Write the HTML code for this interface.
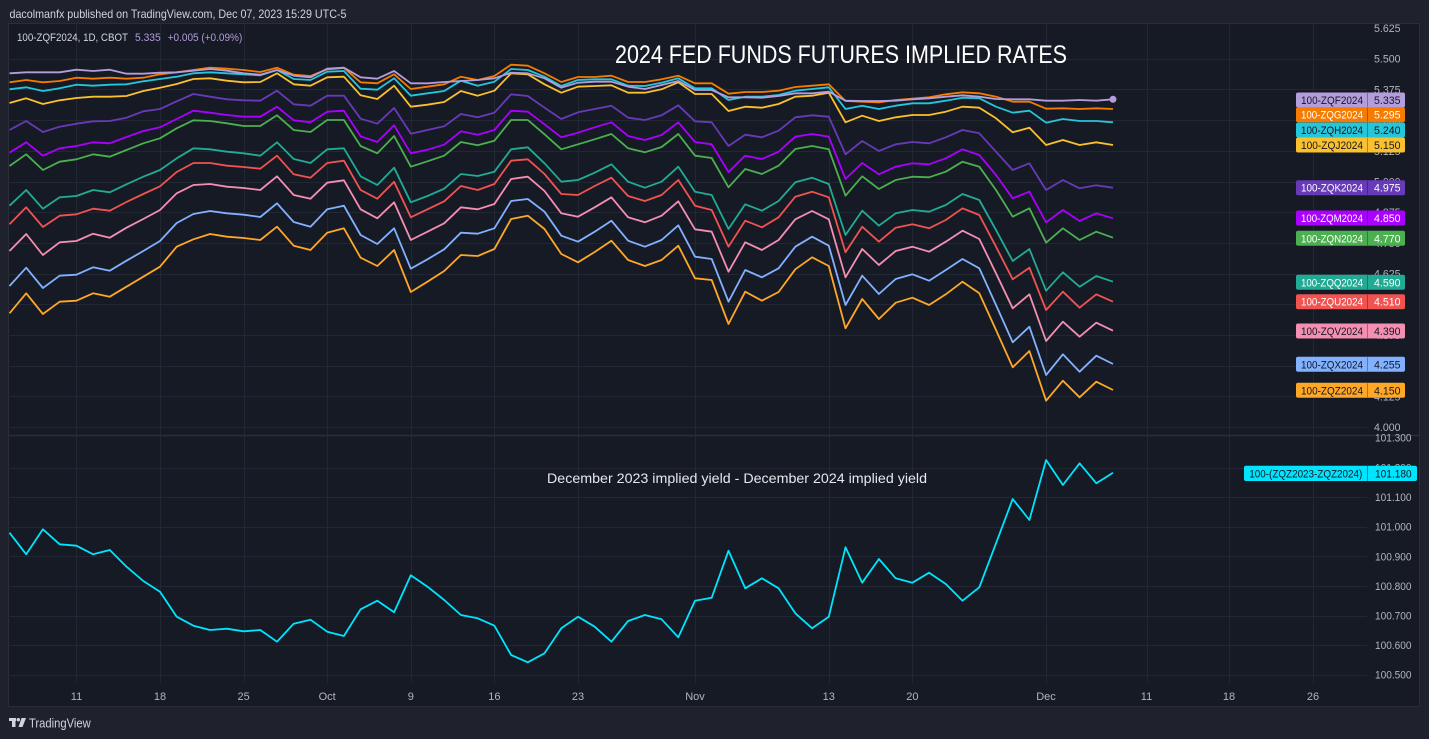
<!DOCTYPE html>
<html><head><meta charset="utf-8">
<style>
html,body{margin:0;padding:0;background:#1f222c;}
svg{display:block;}
text{font-family:"Liberation Sans",sans-serif;}
</style></head><body>
<svg id="s" width="1429" height="739" viewBox="0 0 1429 739" xmlns="http://www.w3.org/2000/svg">
<rect width="1429" height="739" fill="#1f222c"/>
<rect x="8.5" y="23.5" width="1411" height="683" fill="#161a25" stroke="#2a2e39" stroke-width="1"/>
<g id="grid" stroke="#232733" stroke-width="1" shape-rendering="crispEdges"></g>
<line x1="8" y1="435.5" x2="1420" y2="435.5" stroke="#2a2e39" stroke-width="1.5"/>
<g id="lines" fill="none" stroke-width="1.8" stroke-linejoin="round"></g>
<circle cx="1113" cy="99.3" r="3.5" fill="#b39ddb"/>

<!-- header -->
<text x="9.5" y="18" font-size="12" fill="#d1d4dc" textLength="337" lengthAdjust="spacingAndGlyphs">dacolmanfx published on TradingView.com, Dec 07, 2023 15:29 UTC-5</text>
<text x="17" y="41" font-size="11" fill="#d1d4dc" textLength="111" lengthAdjust="spacingAndGlyphs">100-ZQF2024, 1D, CBOT</text>
<text x="135" y="41" font-size="11" fill="#b39ddb" textLength="25.7" lengthAdjust="spacingAndGlyphs">5.335</text>
<text x="167.7" y="41" font-size="11" fill="#b39ddb" textLength="74.6" lengthAdjust="spacingAndGlyphs">+0.005 (+0.09%)</text>

<!-- titles -->
<text x="615" y="63" font-size="25" fill="#ffffff" textLength="452" lengthAdjust="spacingAndGlyphs">2024 FED FUNDS FUTURES IMPLIED RATES</text>
<text x="547" y="483" font-size="14" fill="#e6e8ee" textLength="380" lengthAdjust="spacingAndGlyphs">December 2023 implied yield - December 2024 implied yield</text>

<!-- price axis top -->
<g font-size="11" fill="#b2b5be">
<text x="1374" y="32" textLength="26.5" lengthAdjust="spacingAndGlyphs">5.625</text>
<text x="1374" y="62.7" textLength="26.5" lengthAdjust="spacingAndGlyphs">5.500</text>
<text x="1374" y="93.4" textLength="26.5" lengthAdjust="spacingAndGlyphs">5.375</text>
<text x="1374" y="124.1" textLength="26.5" lengthAdjust="spacingAndGlyphs">5.250</text>
<text x="1374" y="154.8" textLength="26.5" lengthAdjust="spacingAndGlyphs">5.125</text>
<text x="1374" y="185.5" textLength="26.5" lengthAdjust="spacingAndGlyphs">5.000</text>
<text x="1374" y="216.2" textLength="26.5" lengthAdjust="spacingAndGlyphs">4.875</text>
<text x="1374" y="246.9" textLength="26.5" lengthAdjust="spacingAndGlyphs">4.750</text>
<text x="1374" y="277.6" textLength="26.5" lengthAdjust="spacingAndGlyphs">4.625</text>
<text x="1374" y="308.3" textLength="26.5" lengthAdjust="spacingAndGlyphs">4.500</text>
<text x="1374" y="339" textLength="26.5" lengthAdjust="spacingAndGlyphs">4.375</text>
<text x="1374" y="369.7" textLength="26.5" lengthAdjust="spacingAndGlyphs">4.250</text>
<text x="1374" y="400.4" textLength="26.5" lengthAdjust="spacingAndGlyphs">4.125</text>
<text x="1374" y="431.1" textLength="26.5" lengthAdjust="spacingAndGlyphs">4.000</text>
<!-- bottom pane -->
<text x="1375" y="441.5" textLength="36.5" lengthAdjust="spacingAndGlyphs">101.300</text>
<text x="1375" y="471.5" textLength="36.5" lengthAdjust="spacingAndGlyphs">101.200</text>
<text x="1375" y="501.1" textLength="36.5" lengthAdjust="spacingAndGlyphs">101.100</text>
<text x="1375" y="530.7" textLength="36.5" lengthAdjust="spacingAndGlyphs">101.000</text>
<text x="1375" y="560.3" textLength="36.5" lengthAdjust="spacingAndGlyphs">100.900</text>
<text x="1375" y="589.9" textLength="36.5" lengthAdjust="spacingAndGlyphs">100.800</text>
<text x="1375" y="619.5" textLength="36.5" lengthAdjust="spacingAndGlyphs">100.700</text>
<text x="1375" y="649.1" textLength="36.5" lengthAdjust="spacingAndGlyphs">100.600</text>
<text x="1375" y="678.7" textLength="36.5" lengthAdjust="spacingAndGlyphs">100.500</text>
</g>

<!-- time axis -->
<g font-size="11" fill="#b2b5be" text-anchor="middle">
<text x="76.5" y="700">11</text>
<text x="160" y="700">18</text>
<text x="243.6" y="700">25</text>
<text x="327.2" y="700">Oct</text>
<text x="410.8" y="700">9</text>
<text x="494.4" y="700">16</text>
<text x="578" y="700">23</text>
<text x="695" y="700">Nov</text>
<text x="828.8" y="700">13</text>
<text x="912.4" y="700">20</text>
<text x="1046" y="700">Dec</text>
<text x="1146.5" y="700">11</text>
<text x="1229" y="700">18</text>
<text x="1313" y="700">26</text>
</g>

<!-- series labels -->
<g id="labels" font-size="11"></g>
<g>
<rect x="1244" y="465.7" width="173" height="15.3" rx="2" fill="#00e5ff"/>
<line x1="1367.5" y1="466" x2="1367.5" y2="481" stroke="rgba(0,0,0,0.35)"/>
<text x="1249.3" y="477.5" font-size="11" fill="#131722" textLength="113" lengthAdjust="spacingAndGlyphs">100-(ZQZ2023-ZQZ2024)</text>
<text x="1375" y="477.5" font-size="11" fill="#131722" textLength="36.7" lengthAdjust="spacingAndGlyphs">101.180</text>
</g>

<!-- footer logo -->
<g fill="#d1d4dc">
<rect x="9" y="718" width="7" height="3"/>
<rect x="12" y="718" width="3.5" height="9"/>
<circle cx="18.3" cy="719.7" r="1.7"/>
<polygon points="21.5,718 26,718 22.5,727 18.5,727"/>
</g>
<text x="29" y="727.5" font-size="12.5" fill="#d1d4dc" textLength="61.7" lengthAdjust="spacingAndGlyphs">TradingView</text>
</svg>
<script>
(function(){
var NS="http://www.w3.org/2000/svg";
function el(n,a,p){var e=document.createElementNS(NS,n);for(var k in a)e.setAttribute(k,a[k]);p.appendChild(e);return e;}
var grid=document.getElementById("grid");
var hy=[58.7,89.4,120.1,150.8,181.5,212.2,242.9,273.6,304.3,335,365.7,396.4,427.1,467.5,497.1,526.7,556.3,585.9,615.5,645.1,674.7];
hy.forEach(function(y){var r=Math.round(y)+0.5;el("line",{x1:8,y1:r,x2:1367,y2:r},grid);});
var vx=[76.4,160,243.6,327.2,410.8,494.4,578,695,828.8,912.4,1046,1146.5,1229,1313];
vx.forEach(function(x){var r=Math.round(x)+0.5;el("line",{x1:r,y1:24,x2:r,y2:683},grid);});
function X(i){return 9.5+16.72*i;}
var S=[
["#ffa726",[820,760,822,785,782,760,770,740,710,680,620,598,582,590,594,600,560,617,630,578,565,653,678,630,756,725,693,645,648,627,537,527,567,642,667,636,602,660,678,660,617,715,720,852,755,782,756,688,652,678,865,777,837,788,773,795,763,725,760,870,982,933,1082,1022,1072,1025,1050]],
["#82b1ff",[738,683,744,707,704,682,692,662,633,603,549,522,513,520,524,531,490,546,560,508,497,585,612,565,686,658,628,578,581,565,483,477,515,587,605,575,542,602,620,600,556,650,657,785,690,712,685,620,590,617,795,707,762,717,703,722,690,657,685,795,907,860,1005,943,995,947,972]],
["#f48fb1",[633,582,645,607,603,581,593,563,537,510,460,435,432,440,444,450,409,465,476,428,421,508,535,487,600,575,550,502,508,492,417,410,453,520,530,502,472,532,547,527,484,568,575,695,607,630,600,538,513,538,712,627,675,633,620,635,605,572,597,700,805,763,903,845,890,848,872]],
["#f05350",[553,502,561,527,523,506,512,486,462,439,396,369,369,377,381,386,347,403,413,369,362,450,476,425,532,508,484,438,450,432,362,358,402,462,465,438,413,468,483,465,420,497,510,620,542,562,532,470,455,472,637,560,605,563,553,565,540,505,525,620,718,683,810,755,803,763,785]],
["#22ab94",[497,450,506,472,468,450,457,433,410,390,355,325,328,335,340,347,307,357,369,328,325,409,435,383,487,468,446,402,408,395,328,322,370,425,420,398,373,425,443,425,380,455,465,567,493,512,483,427,413,432,585,512,557,520,510,515,495,462,480,570,663,627,752,697,740,708,725]],
["#4caf50",[378,343,390,365,358,343,350,330,310,295,265,241,243,250,258,258,226,270,276,240,240,318,340,288,380,364,347,306,316,302,240,240,283,328,313,298,282,325,337,321,282,347,354,442,387,402,377,327,318,328,467,409,447,420,410,412,395,365,380,450,530,505,608,565,600,575,593]],
["#aa00ff",[338,307,347,325,318,307,310,291,273,262,237,212,218,225,230,230,200,241,247,215,212,289,306,256,340,329,314,274,284,270,212,215,253,292,278,262,247,288,300,285,247,306,313,396,347,357,335,290,282,290,417,369,403,380,370,373,355,328,345,405,475,455,547,510,543,520,535]],
["#673ab7",[270,243,276,260,251,244,243,233,214,207,184,162,170,178,181,182,152,193,197,167,167,236,251,204,281,270,259,222,232,218,163,168,203,237,217,207,197,233,240,226,196,244,247,318,284,292,272,232,226,230,343,303,333,313,306,310,292,270,280,335,390,370,450,420,445,436,443]],
["#fbc02d",[189,175,192,181,174,170,170,168,153,143,132,117,115,122,127,126,100,133,137,112,110,166,177,137,200,194,186,153,167,152,100,103,133,158,140,138,136,158,158,148,127,162,162,213,200,203,192,170,167,158,247,227,243,232,225,225,215,200,203,235,277,263,315,300,315,307,315]],
["#26c6da",[148,142,153,145,134,137,134,133,124,117,110,100,97,100,103,106,90,117,120,95,93,146,149,115,167,160,153,122,137,125,87,90,110,138,120,118,118,137,138,128,115,145,145,180,170,170,165,152,147,142,207,197,207,197,190,190,182,173,175,200,218,212,248,237,243,243,247]],
["#f57c00",[127,120,127,123,113,116,113,116,113,103,97,90,83,86,90,96,83,104,108,88,84,127,130,103,147,140,133,110,120,108,74,77,100,126,111,111,107,126,126,118,107,130,130,161,156,156,152,141,137,133,183,185,187,180,176,172,163,157,160,170,185,185,206,205,207,205,207]],
["#b39ddb",[100,97,97,97,89,93,89,101,101,98,97,92,87,92,100,104,90,107,112,86,83,112,116,93,130,130,126,123,120,115,98,100,115,143,128,125,125,140,147,135,123,150,150,172,172,173,168,160,160,155,182,183,183,182,178,175,170,166,170,177,178,178,182,182,180,182,178]]
];
var lines=document.getElementById("lines");
S.forEach(function(s){
  var pts=s[1].map(function(z,i){return X(i).toFixed(1)+","+(40+z/3).toFixed(1);}).join(" ");
  el("polyline",{points:pts,stroke:s[0]},lines);
});
var B=[532.7,554.3,529.3,544.3,545.7,554.3,550,566.7,581,591.7,616.7,625.7,630,628.7,631.3,630,641.7,623.7,619.7,631.7,636,609.3,600.7,612.3,575.3,586.7,600,615,618.3,625.7,655,662.3,653.3,628.3,616.7,626.7,641.7,621,615,619.3,637.3,600.7,597.7,550.7,588.3,578.3,588.3,613.3,628.3,616.7,547.3,582.7,559,578.3,582.7,572.7,584,600.7,587.3,543.3,499,520,460,485,463.3,483.3,472.7];
el("polyline",{points:B.map(function(y,i){return X(i).toFixed(1)+","+y;}).join(" "),stroke:"#00e5ff"},lines);

var L=[
["100-ZQF2024","5.335",100,"#b39ddb","#131722"],
["100-ZQG2024","5.295",114.7,"#f57c00","#ffffff"],
["100-ZQH2024","5.240",130,"#26c6da","#131722"],
["100-ZQJ2024","5.150",145,"#fbc02d","#131722"],
["100-ZQK2024","4.975",187.7,"#673ab7","#ffffff"],
["100-ZQM2024","4.850",218,"#aa00ff","#ffffff"],
["100-ZQN2024","4.770",238.3,"#4caf50","#ffffff"],
["100-ZQQ2024","4.590",282.3,"#22ab94","#ffffff"],
["100-ZQU2024","4.510",301.7,"#f05350","#ffffff"],
["100-ZQV2024","4.390",331,"#f48fb1","#131722"],
["100-ZQX2024","4.255",364.3,"#82b1ff","#131722"],
["100-ZQZ2024","4.150",390.3,"#ffa726","#131722"]
];
var lg=document.getElementById("labels");
L.forEach(function(l){
  var c=l[2];
  el("rect",{x:1296,y:c-7.5,width:109,height:15,rx:2,fill:l[3]},lg);
  el("line",{x1:1367.5,y1:c-7,x2:1367.5,y2:c+7,stroke:"rgba(0,0,0,0.3)"},lg);
  var t=el("text",{x:1301,y:c+4,fill:l[4],textLength:62,lengthAdjust:"spacingAndGlyphs"},lg);t.textContent=l[0];
  var v=el("text",{x:1374,y:c+4,fill:l[4],textLength:26.5,lengthAdjust:"spacingAndGlyphs"},lg);v.textContent=l[1];
});
})();
</script>
</body></html>
